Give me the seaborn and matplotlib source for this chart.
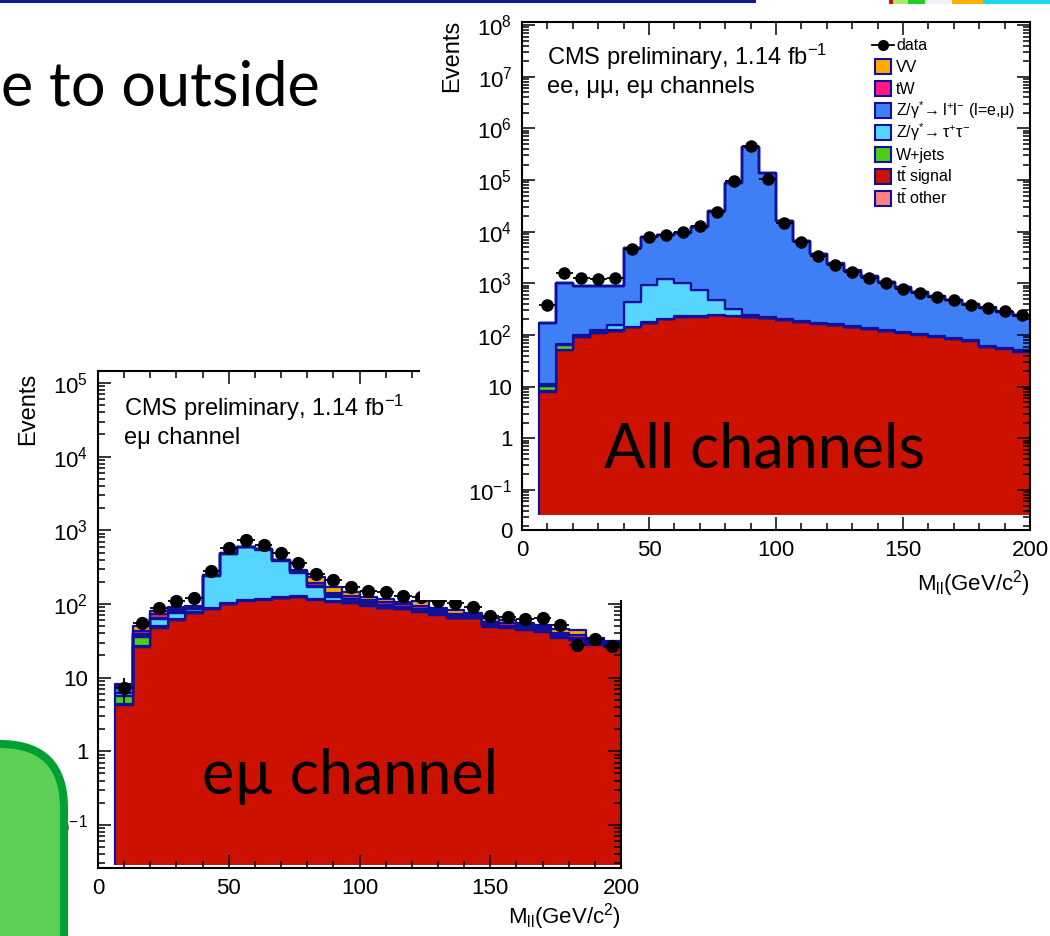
import numpy as np
import pandas as pd
import seaborn as sns
import matplotlib.pyplot as plt
from matplotlib.lines import Line2D
from matplotlib.patches import Rectangle, FancyBboxPatch
from matplotlib.ticker import MultipleLocator, LogLocator, NullFormatter
from matplotlib.transforms import Affine2D

# M_ll bins of 20/3 GeV, the 0-6.7 GeV bin is empty
bin_edges = np.linspace(20 / 3, 200, 30)
bin_centres = (bin_edges[:-1] + bin_edges[1:]) / 2

# ee + mumu + emu channels
data_all = [380, 1600, 1300, 1200, 1300, 4600, 7800, 8500, 9800, 12800, 24000, 95000, 450000, 107000,
            15000, 6300, 3400, 2250, 1650, 1260, 1000, 770, 650, 540, 475, 380, 330, 290, 240]
ttsig_all = [8, 51, 91, 110, 120, 140, 170, 200, 220, 225, 240, 230, 220, 210, 195, 178, 165, 155, 140,
             130, 120, 112, 102, 93, 83, 76, 59, 54, 48]
ttother_all = [0.2, 1, 2, 2, 2, 3, 3, 4, 4, 4, 5, 5, 4, 4, 4, 4, 3, 3, 3, 3, 2, 2, 2, 2, 2, 2, 1, 1, 1]
wjets_all = [2, 12, 2, 2, 2, 2, 2, 2, 12, 2, 2, 2, 2, 2, 2, 1.5, 1.5, 1.5, 1, 1, 1, 1, 1, 1, 1, 1, 1, 1, 1]
ztt_all = [1, 3, 5, 10, 30, 295, 760, 1000, 765, 515, 240, 85, 20, 12, 8, 6, 5, 4, 3, 3, 2, 2, 2, 1.5,
           1.5, 1, 1, 1, 1]
zll_all = [160, 930, 780, 760, 740, 4350, 6850, 7280, 8380, 11500, 24500, 86500, 444500, 134700, 16200,
           6350, 3480, 2250, 1620, 1220, 920, 710, 575, 455, 385, 320, 275, 220, 185]
tw_all = [0.4, 3, 5, 6, 7, 8, 9, 11, 12, 12, 13, 12, 12, 11, 10, 10, 9, 9, 8, 7, 7, 6, 6, 5, 5, 4, 4, 3, 3]
vv_all = [0.3, 2, 3, 4, 4, 5, 6, 7, 8, 9, 10, 15, 40, 20, 8, 6, 5, 5, 4, 4, 4, 3, 3, 3, 3, 2, 2, 2, 2]

# e-mu channel only
data_em = [7.3, 55, 89, 110, 121, 280, 580, 740, 630, 490, 355, 255, 213, 170, 150, 145, 128, 123, 109,
           103, 91, 69, 66, 63, 65, 52, 28, 34, 27]
ttsig_em = [4.3, 26, 47, 60, 75, 85, 100, 110, 114, 120, 124, 115, 107, 102, 95, 87, 85, 79, 71, 64, 64,
            49, 47, 45, 42, 35, 32, 28, 26]
ttother_em = [0.1, 0.5, 1, 1, 1, 1.5, 1.5, 2, 2, 2, 2, 2, 2, 2, 2, 1.5, 1.5, 1.5, 1.5, 1, 1, 1, 1, 1, 1,
              1, 1, 0.5, 0.5]
wjets_em = [1.2, 9, 2, 1.5, 1, 1, 1, 1, 1, 1, 1, 1, 1, 1, 1, 0.5, 0.5, 0.5, 0.5, 0.5, 0.5, 0.5, 0.5, 0.5,
            0.3, 0.3, 0.3, 0.3, 0.3]
ztt_em = [0.6, 2, 12, 14, 8, 150, 375, 475, 430, 265, 140, 52, 15, 8, 5, 4, 3, 3, 2, 2, 1.5, 1.5, 1, 1,
          1, 1, 0.7, 0.5, 0.4]
zll_em = [1.4, 2, 3, 3, 1, 3, 3, 3, 3, 3, 5, 8, 6, 4, 3, 3, 2, 2, 2, 1.5, 1, 1, 1, 1, 1, 0.7, 0.7, 0.5, 0.4]
tw_em = [0.3, 4, 8, 7, 4, 5, 5, 5, 6, 6, 7, 12, 12, 11, 9, 9, 7, 9, 5, 5, 4, 4, 4, 3, 3, 3, 3.5, 2, 1.5]
vv_em = [0.2, 6, 8, 5.5, 3, 4.5, 4, 4, 4, 3, 11, 45, 27, 19, 11, 12, 8, 15, 6, 8, 4, 7, 5.5, 3.5, 3.7, 5,
         6.8, 3.2, 1.9]

# seaborn stacks the first hue level on top
stack_order = ["VV", "tW", "Zll", "Ztautau", "Wjets", "ttother", "ttsignal"]
legend_order = ["VV", "tW", "Zll", "Ztautau", "Wjets", "ttsignal", "ttother"]
colours = {"VV": "#ffaa00", "tW": "#ff1a80", "Zll": "#3f7ff5", "Ztautau": "#55d5ff",
           "Wjets": "#4dcc1a", "ttsignal": "#cc1100", "ttother": "#ff8080"}
legend_labels = {"VV": "VV", "tW": "tW",
                 "Zll": r"Z/$\gamma^{*}\!\rightarrow$l$^{+}$l$^{-}$ (l=e,$\mu$)",
                 "Ztautau": r"Z/$\gamma^{*}\!\rightarrow\tau^{+}\tau^{-}$",
                 "Wjets": "W+jets", "ttsignal": r"t$\bar{\rm t}$ signal", "ttother": r"t$\bar{\rm t}$ other"}
NAVY = "#10109a"

plt.rcParams.update({
    "font.family": ["Liberation Sans", "DejaVu Sans"],
    "mathtext.fontset": "custom",
    "mathtext.rm": "Liberation Sans",
    "mathtext.it": "Liberation Sans:italic",
    "mathtext.bf": "Liberation Sans:bold",
    "mathtext.default": "regular",
})

W, H = 1050, 936
fig = plt.figure(figsize=(W / 100, H / 100), dpi=100)
px = Affine2D().scale(1 / W, 1 / H) + fig.transFigure  # pixel coords, origin bottom-left


def long_table(parts):
    frames = []
    for name, vals in parts.items():
        frames.append(pd.DataFrame({"mll": bin_centres, "events": vals, "process": name}))
    return pd.concat(frames, ignore_index=True)


def draw_panel(ax, parts, data, ylow, yhigh, floor, top_decade, ms, zero_label):
    ax.set_yscale("log")
    sns.histplot(data=long_table(parts), x="mll", weights="events", hue="process",
                 hue_order=stack_order, palette=colours, multiple="stack", element="step",
                 bins=list(bin_edges), alpha=1, edgecolor=NAVY, linewidth=1.6, legend=False, ax=ax)
    # small white strip between the histogram floor and the frame, as ROOT draws it
    ax.axhspan(ylow, floor, color="white", lw=0, zorder=1.2)
    ax.errorbar(bin_centres, data, xerr=10 / 3, yerr=np.sqrt(data), fmt="o", color="black",
                ms=ms, elinewidth=1.3, capsize=0, zorder=4)

    ax.set_xlim(0, 200)
    ax.set_ylim(ylow, yhigh)
    ax.xaxis.set_major_locator(MultipleLocator(50))
    ax.xaxis.set_minor_locator(MultipleLocator(10))
    majors = [ylow] + [10.0 ** k for k in range(-1, top_decade + 1)]
    labels = [zero_label, "10$^{-1}$", "1", "10"] + ["10$^{%d}$" % k for k in range(2, top_decade + 1)]
    ax.set_yticks(majors, labels)
    ax.yaxis.set_minor_locator(LogLocator(base=10, subs=np.arange(2, 10), numticks=60))
    ax.yaxis.set_minor_formatter(NullFormatter())

    ax.set_axisbelow(False)
    ax.tick_params(which="both", direction="in", top=True, right=True, width=1.1, color="black")
    ax.tick_params(which="major", length=9.5, labelsize=16, pad=7)
    ax.tick_params(which="minor", length=5)
    for sp in ax.spines.values():
        sp.set_linewidth(1.5)
        sp.set_color("black")

    ax.set_xlabel(r"M$_{\rm ll}$(GeV/c$^{2}$)", loc="right", fontsize=16)
    ax.set_ylabel("Events", loc="top", fontsize=17)


# e-mu panel (partly hidden behind the other picture)
ax_em = fig.add_axes([98 / W, 1 - 868 / H, 523 / W, 497 / H])
ax_em.set_zorder(0)
em_parts = {"VV": vv_em, "tW": tw_em, "Zll": zll_em, "Ztautau": ztt_em, "Wjets": wjets_em,
            "ttother": ttother_em, "ttsignal": ttsig_em}
draw_panel(ax_em, em_parts, data_em, 10 ** -1.584, 10 ** 5.163, 10 ** -1.543, 5, 8.5, "")
ax_em.xaxis.set_label_coords(1.0, -0.066)
ax_em.yaxis.set_label_coords(-0.113, 0.996)
ax_em.text(0.05, 0.925, "CMS preliminary, 1.14 fb$^{-1}$", transform=ax_em.transAxes,
           fontsize=17, va="center")
ax_em.text(0.05, 0.865, "eμ channel", transform=ax_em.transAxes, fontsize=17, va="center")

# white background of the pasted all-channel picture
fig.add_artist(Rectangle((420, H - 600), W - 420, 600, transform=px, facecolor="white",
                         edgecolor="none", zorder=1))

# all channels panel
ax_all = fig.add_axes([522 / W, 1 - 530 / H, 508 / W, 508 / H])
ax_all.set_zorder(2)
all_parts = {"VV": vv_all, "tW": tw_all, "Zll": zll_all, "Ztautau": ztt_all, "Wjets": wjets_all,
             "ttother": ttother_all, "ttsignal": ttsig_all}
draw_panel(ax_all, all_parts, data_all, 10 ** -1.774, 10 ** 8.06, 10 ** -1.484, 8, 8, "0")
ax_all.xaxis.set_label_coords(1.0, -0.075)
ax_all.yaxis.set_label_coords(-0.116, 1.004)
ax_all.text(0.05, 0.931, "CMS preliminary, 1.14 fb$^{-1}$", transform=ax_all.transAxes,
            fontsize=17, va="center")
ax_all.text(0.05, 0.872, "ee, μμ, eμ channels", transform=ax_all.transAxes, fontsize=17, va="center")

# ROOT-style legend, one row every 22 px
row_y = lambda i: H - (45 + 21.9 * i)
fig.add_artist(Line2D([872, 894], [row_y(0), row_y(0)], transform=px, color="black", lw=1.3, zorder=4))
fig.add_artist(Line2D([883], [row_y(0)], transform=px, marker="o", ms=7, color="black", zorder=4))
fig.text(896 / W, (row_y(0) - 5.5) / H, "data", va="baseline", fontsize=11.5, zorder=4)
for i, name in enumerate(legend_order, start=1):
    yc = row_y(i)
    fig.add_artist(Rectangle((875, yc - 7.5), 16, 15, transform=px, facecolor=colours[name],
                             edgecolor=NAVY, lw=1.5, zorder=4))
    fig.text(896 / W, (yc - 5.5) / H, legend_labels[name], va="baseline", fontsize=11.5, zorder=4)

# slide decorations
slide_font = ["Lato", "DejaVu Sans"]
fig.add_artist(Rectangle((0, H - 3), 756, 3, transform=px, facecolor="#0c1c9c", edgecolor="none", zorder=5))
strip = [(889, 893, "#d01010"), (893, 908, "#a8e878"), (908, 925, "#22cc22"), (925, 952, "#f2f2fa"),
         (952, 983, "#ffb000"), (983, 1050, "#1ad8e8")]
for x0, x1, c in strip:
    fig.add_artist(Rectangle((x0, H - 4), x1 - x0, 4, transform=px, facecolor=c, edgecolor="none", zorder=5))

fig.add_artist(FancyBboxPatch((-200, -100), 264, 292, boxstyle="round,pad=0,rounding_size=64",
                              transform=px, facecolor="#5dcf57", edgecolor="#00a032", lw=5.8, zorder=3))

fig.text(320 / W, 1 - 105 / H, "e to outside", ha="right", va="baseline", fontsize=44,
         family=slide_font, zorder=6)
fig.text(765 / W, 1 - 467 / H, "All channels", ha="center", va="baseline", fontsize=44,
         family=slide_font, zorder=6)
fig.text(350 / W, 1 - 794 / H, "e\u00b5 channel", ha="center", va="baseline", fontsize=44,
         family=slide_font, zorder=6)

fig.savefig("out.png", dpi=100)
